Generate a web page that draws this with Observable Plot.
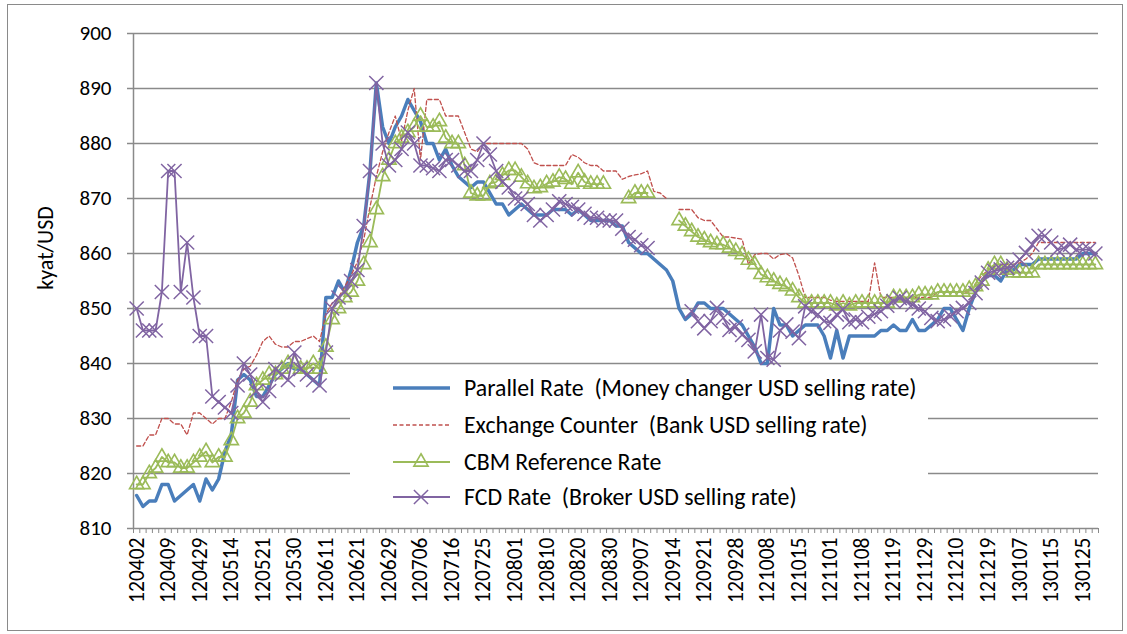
<!DOCTYPE html>
<html><head><meta charset="utf-8">
<script src="https://cdn.jsdelivr.net/npm/d3@7"></script>
<script src="https://cdn.jsdelivr.net/npm/@observablehq/plot@0.6"></script>
<style>
html,body{margin:0;padding:0;background:#fff;}
#wrap{position:relative;width:1127px;height:634px;overflow:hidden;font-family:Carlito,Lato,sans-serif;}
#border{position:absolute;left:7px;top:4px;width:1116px;height:627px;border:1px solid #8a8a8a;box-sizing:border-box;}
#chart{position:absolute;left:0;top:0;}
#legend{position:absolute;left:350px;top:369px;}
#ylabel{position:absolute;left:45px;top:248px;transform:translate(-50%,-50%) rotate(-90deg);font-size:22px;white-space:nowrap;color:#000;}
</style></head>
<body><div id="wrap"><div id="border"></div><div id="chart"></div><div id="legend"></div><div id="ylabel"></div></div>
<script>
const dateLabels = ["120402","120409","120429","120514","120521","120530","120611","120621","120629","120706","120716","120725","120801","120810","120820","120830","120907","120914","120921","120928","121008","121015","121101","121108","121119","121129","121210","121219","130107","130115","130125"];

const seriesNames = ["Parallel Rate  (Money changer USD selling rate)","Exchange Counter  (Bank USD selling rate)","CBM Reference Rate","FCD Rate  (Broker USD selling rate)"];

const yAxisTitle = "kyat/USD";
const yTicks = [810,820,830,840,850,860,870,880,890,900];

const parallelRate = [
816,814,815,815,818,818,815,816,817,818,
815,819,817,819,824,827,837,838,837,834,
834,836,838,839,840,839,839,838,837,836,
852,852,855,853,857,862,865,875,891,883,
880,883,885,888,886,884,880,880,877,879,
876,874,873,872,873,873,871,869,869,867,
868,869,868,867,867,867,868,868,868,867,
868,867,866,866,866,866,865,865,862,861,
860,860,859,858,857,855,850,848,849,851,
851,850,850,850,849,848,847,845,843,840,
840,850,847,847,845,846,847,847,847,845,
841,846,841,845,845,845,845,845,846,846,
847,846,846,848,846,846,847,848,850,850,
848,846,850,853,855,856,856,855,857,857,
858,858,858,859,859,859,859,859,859,859,
860,860,860];

const exchangeCounter = [
825,825,827,827,830,830,829,829,827,831,
831,830,829,830,830,833,837,839,839.5,841.5,
844,845,843.5,843,843,844,844,844.5,845,844,
849,851,852,854,856,858.5,862.5,868.5,874,878.5,
882,885,880.5,886,890,877,888,888,888,885,
885,885,882,879,878.5,880,880,880,880,880,
880,880,879,876.5,876,876,876,876,876,878,
877.5,876.5,876,876,875,875,875,873.5,874,874.3,
874.5,875,871.3,871,870,null,868,868,868,866.5,
866,866,864.5,863,863,862.8,862.6,858,859.8,860,
860,859,859.8,860,859.2,856,852,852,852,852,
851.5,851.3,851.3,851.3,851.3,851.3,851.3,858.3,852,852,
852,852,852,852,852,852,852,853,853,853,
853,853,853,854.5,856,857,857.7,858,858,858,
858.3,859,860,862,862,862,862,862,862,862,
862,862,862];

const cbmRate = [
818,818,820,821,823,822,822,821,821,822,
823,824,822,823,823,826,830,831,833,836,
837,838,838,839,840,840,839,839,840,839,
843,848,850,852,853,855,858,862,868,874,
877,880,881,882,883,885,883,883,884,881,
880,880,876,871,870.5,870.5,872.7,873,874.2,875.1,
875.1,873.9,872.7,871.8,872,872.7,873,873.9,873.5,872.6,
874.7,873,872.6,872.6,872.6,null,null,null,870,871,
871,871,null,null,null,null,866,865,864,863,
862.5,862,861.6,861.6,861,860.4,859.8,858.8,858,856.2,
855.6,855,854.4,854,853.2,852,851,851,851,851,
851,850.5,851,850.5,851,851,851,851,851,851,
852,852,852,852,852.5,852.5,852.5,853,853,853,
853,853,853.5,854,855,857,858,858,857,856.5,
856.5,856.5,856.5,858,858,858,858,858,858,858,
858,858,858];

const fcdRate = [
850,846,846,846,853,875,875,853,862,852,
845,845,834,833,832,831,836,840,838,835,
833,835,839,838,837,842,839,838,837,836,
842,850,852,853,855,857,865,875,891,880,
876,877,879,882,880,876,876,875.5,875,877,
877,876,875,875,877,880,878,875,873,872,
870,870,869,867,866,867,868,869.5,869,868.5,
868,867.2,866.5,866.5,866,866,866,864.5,863,862.5,
861.5,861,null,null,null,null,null,null,849.5,847.7,
846.4,847.7,850.1,848.3,846.1,846.7,845.2,844.3,842.2,848.9,
841,840.7,846,847.1,845.8,844.6,850.4,849.5,848.9,847.7,
847.4,848.9,849.8,847.5,848,847.5,848.5,849,849.5,850.5,
851.3,851.9,851.3,850.7,850,849.5,848.3,847.7,848,848.6,
849.5,850.1,851,852.8,854.7,856.5,856.8,857.1,857.4,857.7,
858.9,860.1,861.6,863.2,863.2,862,860.7,861,861.6,860.7,
860.7,860.7,860];

const colors = ["#4A7EBB","#C0504D","#9BBB59","#8064A2"];
const N = parallelRate.length;
const idx = d3.range(N);
const rows = arr => idx.map(i => ({i, v: arr[i]}));
const gridGray = "#8a8a8a";
const font = "Carlito, Lato, sans-serif";

const chart = Plot.plot({
  width: 1127, height: 634,
  marginLeft: 133, marginRight: 29, marginTop: 33, marginBottom: 106,
  style: {fontFamily: font, color: "#000", background: "transparent", overflow: "visible"},
  x: {type: "linear", domain: [-0.5, N - 0.5], axis: null},
  y: {type: "linear", domain: [810, 900], axis: null},
  marks: [
    Plot.ruleY(yTicks.filter(t => t > 810), {stroke: gridGray, strokeWidth: 1.5}),
    Plot.axisY({ticks: yTicks, tickSize: 6, tickPadding: 16, tickFormat: d3.format("d"), fontSize: 21, stroke: gridGray, strokeWidth: 1.5, label: null}),
    Plot.axisX({ticks: d3.range(-0.5, N, 1), tickSize: 5, tickFormat: () => "", stroke: gridGray, strokeWidth: 1, label: null}),
    Plot.axisX({ticks: d3.range(0, N, 5), tickSize: 0, tickPadding: 9, tickRotate: -90, tickFormat: i => dateLabels[Math.round(i / 5)], fontSize: 21.5, label: null}),
    Plot.ruleX([-0.5], {stroke: gridGray, strokeWidth: 1.5}),
    Plot.ruleY([810], {stroke: gridGray, strokeWidth: 1.5}),
    Plot.line(rows(parallelRate), {x: "i", y: "v", stroke: colors[0], strokeWidth: 3.5}),
    Plot.line(rows(exchangeCounter), {x: "i", y: "v", stroke: colors[1], strokeWidth: 1.3, strokeDasharray: "4,2.5"}),
    Plot.line(rows(cbmRate), {x: "i", y: "v", stroke: colors[2], strokeWidth: 1.8}),
    Plot.dot(rows(cbmRate), {x: "i", y: "v", symbol: "triangle", r: 5.3, stroke: colors[2], strokeWidth: 1.6, fill: "none"}),
    Plot.line(rows(fcdRate), {x: "i", y: "v", stroke: colors[3], strokeWidth: 1.8}),
    Plot.dot(rows(fcdRate), {x: "i", y: "v", symbol: "times", r: 6.5, stroke: colors[3], strokeWidth: 1.5})
  ]
});
document.getElementById("chart").appendChild(chart);
document.getElementById("ylabel").textContent = yAxisTitle;

// legend
const lg = d3.select("#legend").append("svg").attr("width", 578).attr("height", 146)
  .style("background", "#fff").style("font-family", font);
const rowY = [19, 56, 93, 128];
seriesNames.forEach((name, k) => {
  const g = lg.append("g").attr("transform", `translate(0,${rowY[k]})`);
  const ln = g.append("line").attr("x1", 43).attr("x2", 100).attr("y1", 0).attr("y2", 0)
    .attr("stroke", colors[k]).attr("stroke-width", k === 0 ? 3.5 : (k === 1 ? 1.3 : 1.8));
  if (k === 1) ln.attr("stroke-dasharray", "4,2.5");
  if (k === 2) g.append("path").attr("d", d3.symbol(d3.symbolTriangle, 88)()).attr("transform", "translate(71,0)")
    .attr("fill", "none").attr("stroke", colors[2]).attr("stroke-width", 1.6);
  if (k === 3) g.append("path").attr("d", d3.symbol(d3.symbolTimes, 133)()).attr("transform", "translate(71,0)")
    .attr("fill", "none").attr("stroke", colors[3]).attr("stroke-width", 1.5);
  g.append("text").attr("x", 114).attr("y", 0).attr("dy", "0.35em").attr("font-size", 23.8)
    .style("white-space", "pre").attr("fill", "#000").text(name);
});
</script>
</body></html>
